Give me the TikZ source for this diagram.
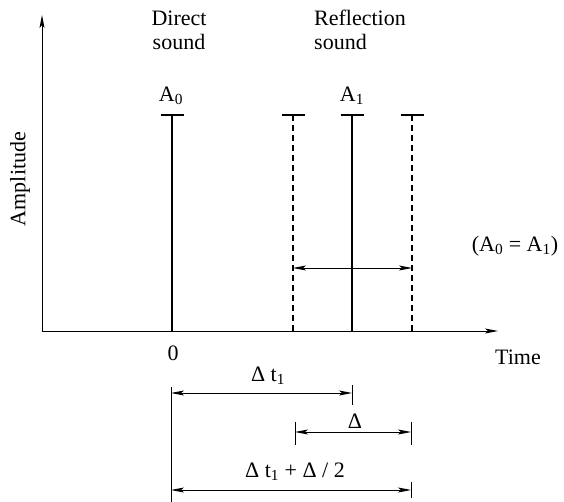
\documentclass[tikz,border=0pt]{standalone}
\usepackage{fontspec}
\setmainfont{Liberation Serif}
\usetikzlibrary{arrows.meta}

\begin{document}
\begin{tikzpicture}[
  x=1pt, y=-1pt,
  font=\fontsize{22}{24}\selectfont,
  >={Stealth[length=13pt, width=5pt, inset=3pt]},
  axis/.style ={line width=0.9pt},
  pulse/.style={line width=1.5pt},
  echo/.style ={line width=1.5pt, dash pattern=on 6pt off 4pt},
  topbar/.style={line width=1.5pt},
  dim/.style  ={line width=0.8pt},
  txt/.style  ={inner sep=0pt, align=center},
]
\useasboundingbox (0,0) rectangle (564,502);

% ---------- axes ----------
\coordinate (O)    at (42,331);
\coordinate (ytop) at (42,15);
\coordinate (xend) at (498,331);
\draw[axis,->] (O) -- (ytop);
\draw[axis,->] (O) -- (xend);

% ---------- pulses ----------
\coordinate (p0) at (172,331);  \coordinate (t0) at (172,115);
\coordinate (p1) at (352,331);  \coordinate (t1) at (352,115);
\coordinate (pa) at (293,331);  \coordinate (ta) at (293,115);
\coordinate (pb) at (412,331);  \coordinate (tb) at (412,115);
\draw[pulse] (p0) -- (t0);
\draw[pulse] (p1) -- (t1);
\draw[echo]  (pa) -- (ta);
\draw[echo]  (pb) -- (tb);
\foreach \t in {t0,t1,ta,tb}
  \draw[topbar] ([xshift=-11.5pt]\t) -- ([xshift=11.5pt]\t);

% spread of reflection
\draw[dim,<->] (293,268) coordinate (sa) -- (412,268) coordinate (sb);

% ---------- labels ----------
\node[txt] (direct) at (179,30) {Direct\\sound};
\node[txt, align=left, anchor=west] (refl) at (314,30) {Reflection\\sound};
\node[txt] (A0) at (171,96) {A\textsubscript{0}};
\node[txt] (A1) at (352,96) {A\textsubscript{1}};
\node[txt, rotate=90] (amp) at (20,179) {Amplitude};
\node[txt] (eq) at (515,246) {(A\textsubscript{0} = A\textsubscript{1})};
\node[txt] (zero) at (173,353) {0};
\node[txt] (time) at (518,357) {Time};

% ---------- time differences ----------
\coordinate (e0) at (171,387);  \coordinate (e0b) at (171,502);
\draw[dim] (e0) -- (e0b);
\coordinate (k1a) at (352,385); \coordinate (k1b) at (352,405);
\draw[dim] (k1a) -- (k1b);
\draw[dim,<->] (171,393) coordinate (d1a) -- (352,393) coordinate (d1b);
\node[txt] (lt1) at (268,376) {Δ t\textsubscript{1}};

\coordinate (k2a) at (295,422); \coordinate (k2b) at (295,445);
\coordinate (k3a) at (411,422); \coordinate (k3b) at (411,445);
\draw[dim] (k2a) -- (k2b);
\draw[dim] (k3a) -- (k3b);
\draw[dim,<->] (295,432) coordinate (d2a) -- (411,432) coordinate (d2b);
\node[txt] (ld) at (355,421) {Δ};

\coordinate (k4a) at (411,482); \coordinate (k4b) at (411,498);
\draw[dim] (k4a) -- (k4b);
\draw[dim,<->] (171,490) coordinate (d3a) -- (411,490) coordinate (d3b);
\node[txt] (lsum) at (295,472) {Δ t\textsubscript{1} + Δ / 2};

\end{tikzpicture}
\end{document}
